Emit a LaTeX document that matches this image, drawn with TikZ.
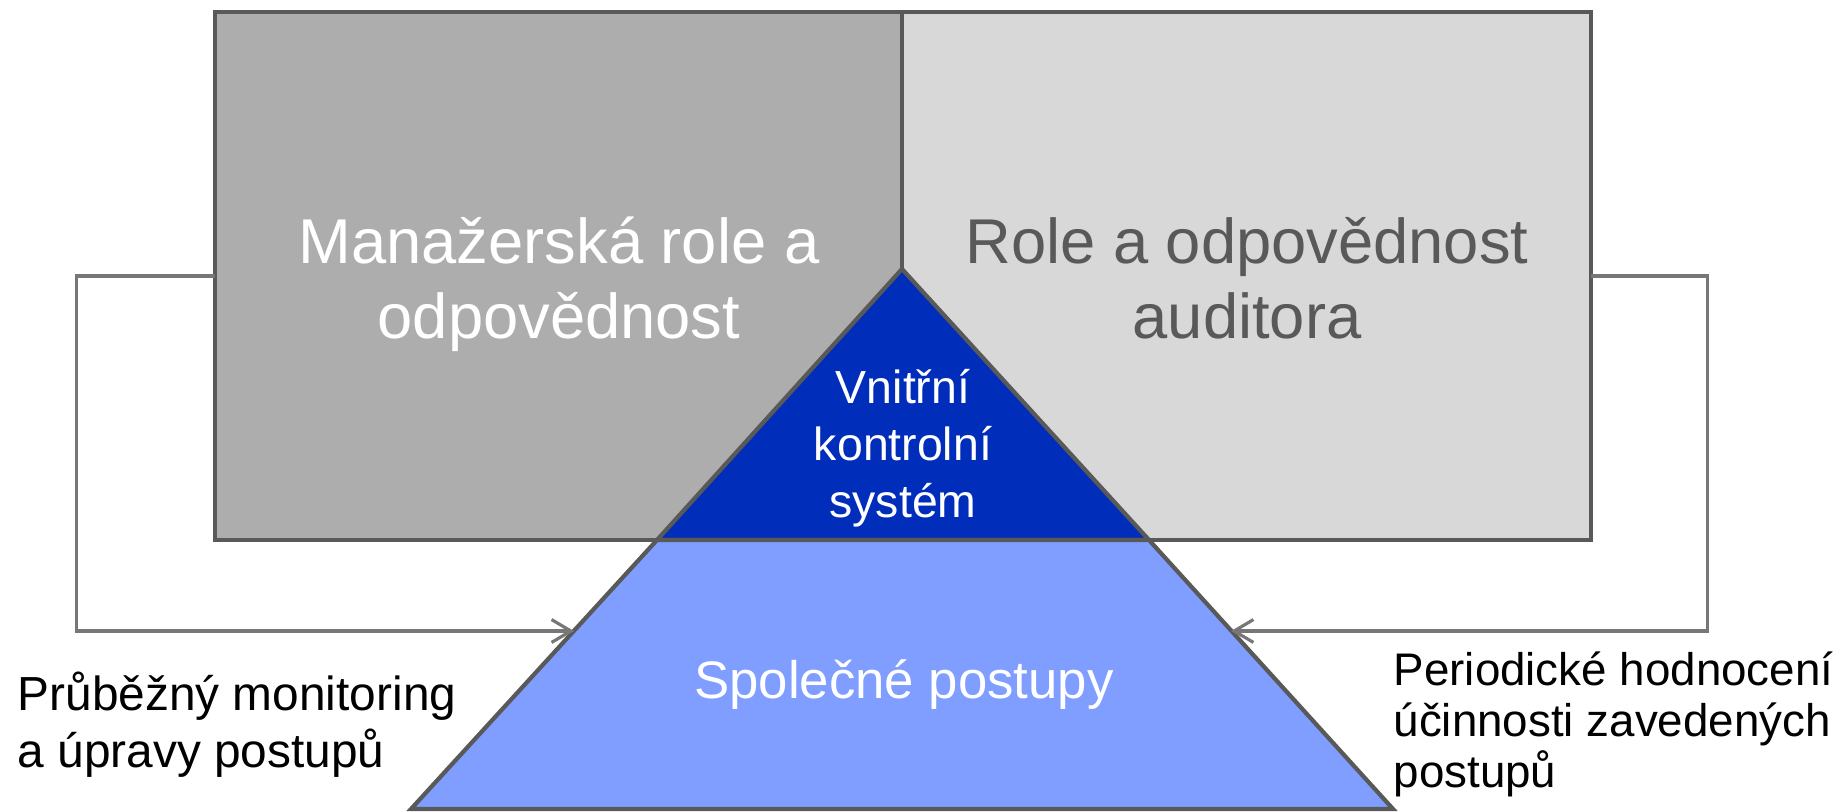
\documentclass[tikz,border=0pt]{standalone}
\usepackage{fontspec}
\setmainfont{Liberation Sans}
\usetikzlibrary{arrows.meta}

\definecolor{mgrfill}{HTML}{ADADAD}
\definecolor{audfill}{HTML}{D8D8D8}
\definecolor{edgegray}{HTML}{595959}
\definecolor{conngray}{HTML}{777777}
\definecolor{vksblue}{HTML}{002EBB}
\definecolor{spblue}{HTML}{7F9EFF}

\tikzset{
  rolebox/.style={draw=edgegray, line width=1.2pt, inner sep=0pt, outer sep=0pt,
    minimum height=5.28cm},
  edgeline/.style={draw=edgegray, line width=1.2pt, line join=miter},
  conn/.style={draw=conngray, line width=0.9pt,
    -{Straight Barb[length=5.5pt,width=6.5pt,line width=0.9pt]}},
  bigtext/.style={font=\fontsize{18}{21.3}\selectfont, align=center, inner sep=0pt, anchor=base},
  vkstext/.style={font=\fontsize{13.2}{16.2}\selectfont, align=center, inner sep=0pt, anchor=base, text=white},
  sptext/.style={font=\fontsize{15}{18}\selectfont, inner sep=0pt, anchor=base, text=white},
  sidetext/.style={align=left, inner sep=0pt, anchor=base west, text=black}
}

\begin{document}
\begin{tikzpicture}[x=0.01cm, y=-0.01cm]
\useasboundingbox (0,0) rectangle (1833,812);

% the two responsibility boxes
\node[rolebox, fill=mgrfill, minimum width=6.87cm] (lbox) at (558.5,276) {};
\node[rolebox, fill=audfill, minimum width=6.89cm] (rbox) at (1246.5,276) {};

% pyramid: internal control system on top, common procedures below
\coordinate (apex) at (902,269);
\coordinate (tbl) at (657,540);
\coordinate (tbr) at (1149,540);
\coordinate (bl) at (411,809);
\coordinate (br) at (1393,809);
\draw[edgeline, fill=vksblue] (apex) -- (tbl) -- (tbr) -- cycle;
\draw[edgeline, fill=spblue] (tbl) -- (bl) -- (br) -- (tbr) -- cycle;

% feedback connectors ending on the pyramid sides
\coordinate (ltip) at (574,631);
\coordinate (rtip) at (1231,631);
\draw[conn] (lbox.west) -- ++(-138,0) |- (ltip);
\draw[conn] (rbox.east) -- ++(116,0) |- (rtip);

% texts (each node sits on the baseline of its last line)
\node[bigtext, text=white] (ltext) at (559,338) {Manažerská role a\\odpovědnost};
\node[bigtext, text=edgegray] (rtext) at (1247,338) {Role a odpovědnost\\auditora};
\node[vkstext] (vks) at (903,517) {Vnitřní\\kontrolní\\systém};
\node[sptext] (sp) at (904,698) {Společné postupy};
\node[sidetext, font=\fontsize{13.6}{16.2}\selectfont] (lnote) at (17,767)
  {Průběžný monitoring\\a úpravy postupů};
\node[sidetext, font=\fontsize{13}{14.5}\selectfont] (rnote) at (1393,787)
  {Periodické hodnocení\\účinnosti zavedených\\postupů};
\end{tikzpicture}
\end{document}
